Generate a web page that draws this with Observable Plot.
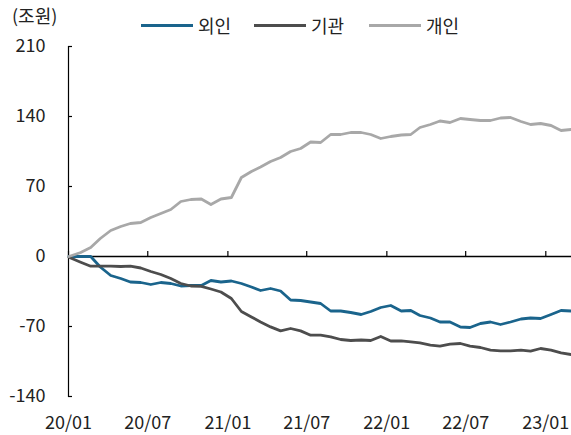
<!DOCTYPE html>
<html>
<head>
<meta charset="utf-8">
<script src="https://cdn.jsdelivr.net/npm/d3@7"></script>
<script src="https://cdn.jsdelivr.net/npm/@observablehq/plot@0.6"></script>
<style>
  html, body { margin: 0; padding: 0; background: #fff; }
  body { width: 571px; height: 435px; overflow: hidden; font-family: "Noto Sans CJK KR", "Noto Sans", sans-serif; color: #222; }
  #header { position: relative; height: 36px; font-size: 18px; }
  #unit { position: absolute; left: 12px; top: 5px; line-height: 20px; }
  .item { position: absolute; top: 15px; height: 20px; line-height: 20px; display: flex; align-items: center; }
  .swatch { display: inline-block; width: 52px; height: 3px; margin-right: 5px; }
  #chart svg { display: block; }
</style>
</head>
<body>
<div id="header"><div id="unit">(조원)</div></div>
<div id="chart"></div>
<script>
const seriesNames = ["외인", "기관", "개인"];
const seriesColors = ["#1a648c", "#4d4d4d", "#a8a8a8"];

const dates = ["2020-01-02","2020-01-29","2020-02-21","2020-03-14","2020-04-07","2020-04-30","2020-05-22","2020-06-15","2020-07-08","2020-07-31","2020-08-23","2020-09-15","2020-10-08","2020-11-01","2020-11-23","2020-12-16",
  "2021-01-09","2021-02-01","2021-02-24","2021-03-17","2021-04-09","2021-05-02","2021-05-25","2021-06-17","2021-07-10","2021-08-02","2021-08-25","2021-09-17","2021-10-10","2021-11-03","2021-11-25","2021-12-18",
  "2022-01-10","2022-02-03","2022-02-25","2022-03-18","2022-04-11","2022-05-03","2022-05-26","2022-06-19","2022-07-11","2022-08-04","2022-08-27","2022-09-19","2022-10-12","2022-11-05","2022-11-27","2022-12-20",
  "2023-01-13","2023-02-05","2023-02-28"];

const foreign = [0,0,0,-10.5,-19,-22,-25.5,-26,-28,-26,
  -27,-29.5,-29,-29,-24,-25.5,-24.5,-27,-30.5,-34,
  -32,-34.5,-43.5,-44,-45.5,-47,-54.5,-54.5,-56,-58,
  -55,-51,-49,-54.5,-54,-59,-61.5,-65.5,-65.5,-70.5,
  -71,-67,-65.5,-68,-65.5,-62.5,-61.5,-62,-58,-54,
  -54.5];

const institution = [-0.7,-5.7,-9.7,-9.7,-9.7,-10,-9.7,-11.5,-15,-18,
  -22,-27,-29.5,-29.8,-32.5,-35.5,-42,-55,-60.5,-65.4,
  -70.4,-74.4,-72,-74.4,-78.7,-78.7,-80.4,-83,-84,-83.5,
  -84,-80,-84.5,-84.4,-85.4,-86.4,-88.6,-89.6,-87.6,-87,
  -89.6,-91,-93.6,-94.3,-94.3,-93.6,-94.6,-92,-93.6,-96.3,
  -98];

const individual = [0,4,9,18,26,30,33,34,39,43,
  47,55,57,57.5,52,57.5,59,79,85,89.5,
  95,99,105,108,114.5,114,122,122,124,124,
  122,118,120,121.5,122,129,132,135.5,134,138,
  137,136,136,138.5,139,135,132,133,131,126,
  127];

const yTicks = [-140, -70, 0, 70, 140, 210];
const xTickLabels = ["2020-01-01","2020-07-01","2021-01-01","2021-07-01","2022-01-01","2022-07-01","2023-01-01"];
const xDomain = ["2020-01-01", "2023-03-01"];

// legend
const legendLeft = [141, 254, 369];
const header = document.getElementById("header");
seriesNames.forEach((name, i) => {
  const item = document.createElement("div");
  item.className = "item";
  item.style.left = legendLeft[i] + "px";
  const sw = document.createElement("span");
  sw.className = "swatch";
  sw.style.background = seriesColors[i];
  item.appendChild(sw);
  item.appendChild(document.createTextNode(name));
  header.appendChild(item);
});

const parse = d3.utcParse("%Y-%m-%d");
const seriesValues = [foreign, institution, individual];
const rows = [];
seriesValues.forEach((vals, s) => {
  vals.forEach((v, i) => rows.push({date: parse(dates[i]), value: v, series: seriesNames[s]}));
});

const W = 571, H = 399, mL = 68, mR = 0, mT = 10, mB = 39;
const yMin = -140, yMax = 210;
const pxPerUnit = (H - mT - mB) / (yMax - yMin);
const tickLen = 5;

const chart = Plot.plot({
  width: W,
  height: H,
  marginLeft: mL,
  marginRight: mR,
  marginTop: mT,
  marginBottom: mB,
  style: {fontSize: "18px", fontFamily: '"Noto Sans CJK KR", "Noto Sans", sans-serif', color: "#222", background: "#fff", overflow: "visible"},
  x: {type: "utc", domain: xDomain.map(parse)},
  y: {domain: [yMin, yMax]},
  color: {domain: seriesNames, range: seriesColors},
  marks: [
    Plot.axisY({ticks: yTicks, tickFormat: d => String(d), tickSize: 0, tickPadding: 23, label: null, fontSize: 18}),
    Plot.tickY(yTicks, {y: d => d, insetRight: (W - mL - mR) - 4, stroke: "#000", strokeWidth: 1.2}),
    Plot.axisX({ticks: xTickLabels.map(parse), tickFormat: d3.utcFormat("%y/%m"), tickSize: 0, tickPadding: 20, label: null, fontSize: 18}),
    Plot.tickX(xTickLabels.map(parse), {x: d => d, insetTop: (yMax - 0) * pxPerUnit - tickLen, insetBottom: (0 - yMin) * pxPerUnit, stroke: "#000", strokeWidth: 1.2}),
    Plot.frame({anchor: "left", stroke: "#000", strokeWidth: 1.2}),
    Plot.ruleY([0], {stroke: "#000", strokeWidth: 1.5}),
    Plot.line(rows, {x: "date", y: "value", z: "series", stroke: "series", strokeWidth: 2.8, curve: "linear"})
  ]
});
document.getElementById("chart").appendChild(chart);
</script>
</body>
</html>
